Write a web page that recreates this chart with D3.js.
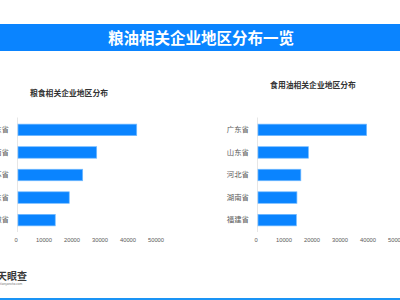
<!DOCTYPE html>
<html lang="zh">
<head>
    <meta charset="UTF-8">
    <title>粮油相关企业地区分布一览</title>
    <style>
        body {
            margin: 0;
            background: #fff;
            font-family: "Noto Sans CJK SC", "Liberation Sans", sans-serif;
        }
        svg { display: block; }
    </style>
</head>
<body>
<script src="https://d3js.org/d3.v7.min.js"></script>
<script>
    // Data
    const grainProvinces = ["山东省", "河南省", "江苏省", "广东省", "安徽省"];
    const grainCounts = [42400, 28100, 23100, 18300, 13300];
    const oilProvinces = ["广东省", "山东省", "河北省", "湖南省", "福建省"];
    const oilCounts = [38800, 18000, 15300, 13900, 13700];
    const xTicks = [0, 10000, 20000, 30000, 40000, 50000];

    const width = 400;
    const height = 300;
    const blue = "#0a84ff";

    const svg = d3.select("body")
        .append("svg")
        .attr("width", width)
        .attr("height", height);

    svg.append("rect").attr("width", width).attr("height", height).attr("fill", "#fff");

    // Header band
    svg.append("rect")
        .attr("x", 0).attr("y", 24)
        .attr("width", width).attr("height", 27)
        .attr("fill", blue);

    svg.append("text")
        .attr("x", 201).attr("y", 43.5)
        .attr("text-anchor", "middle")
        .attr("fill", "#fff")
        .attr("font-size", "15.5px")
        .attr("font-weight", "bold")
        .text("粮油相关企业地区分布一览");

    // Bottom strip
    svg.append("rect")
        .attr("x", 0).attr("y", 298)
        .attr("width", width).attr("height", 2)
        .attr("fill", "#1a94f5");

    // Logo text
    svg.append("text")
        .attr("x", -3).attr("y", 279.5)
        .attr("fill", "#3a3a3a")
        .attr("font-size", "10px")
        .attr("font-weight", "bold")
        .text("天眼查");
    svg.append("text")
        .attr("x", 0).attr("y", 284.5)
        .attr("fill", "#777")
        .attr("font-size", "3px")
        .text("tianyancha.com");

    function drawChart(opts) {
        const x = d3.scaleLinear()
            .domain([0, 50000])
            .range([opts.x0, opts.x0 + 140]);

        const y = d3.scaleBand()
            .domain(opts.categories)
            .range([118.5, 231.5])
            .paddingInner(0.49)
            .paddingOuter(0.25);

        const g = svg.append("g");

        // Title
        g.append("text")
            .attr("x", opts.titleX).attr("y", opts.titleY)
            .attr("text-anchor", "middle")
            .attr("fill", "#333")
            .attr("font-size", "7.8px")
            .attr("font-weight", "bold")
            .text(opts.title);

        // Vertical axis line
        g.append("line")
            .attr("x1", x(0) - 0.5).attr("x2", x(0) - 0.5)
            .attr("y1", 117.5).attr("y2", 232)
            .attr("stroke", "#e6e6e6")
            .attr("stroke-width", 1);

        // Bars
        g.selectAll("rect.bar")
            .data(opts.values)
            .enter()
            .append("rect")
            .attr("class", "bar")
            .attr("x", x(0))
            .attr("y", (d, i) => y(opts.categories[i]))
            .attr("width", d => x(d) - x(0))
            .attr("height", y.bandwidth())
            .attr("fill", blue)
            .attr("stroke", "#74bbff")
            .attr("stroke-width", 0.7);

        // Category labels
        const yAxis = d3.axisLeft(y).tickSize(0).tickPadding(9);
        const ya = g.append("g")
            .attr("transform", "translate(" + x(0) + ",0)")
            .call(yAxis);
        ya.select(".domain").remove();
        ya.selectAll("text")
            .attr("fill", "#595959")
            .attr("font-size", "7.4px")
            .attr("font-family", "'Noto Sans CJK SC', sans-serif");

        // Value axis
        const xAxis = d3.axisBottom(x)
            .tickValues(xTicks)
            .tickFormat(d3.format("d"))
            .tickSize(0)
            .tickPadding(0);
        const xa = g.append("g")
            .attr("transform", "translate(-2.5,238)")
            .call(xAxis);
        xa.select(".domain").remove();
        xa.selectAll("text")
            .attr("fill", "#595959")
            .attr("font-size", "5.8px")
            .attr("font-family", "'Liberation Sans', sans-serif");
    }

    drawChart({
        categories: grainProvinces,
        values: grainCounts,
        x0: 18,
        title: "粮食相关企业地区分布",
        titleX: 69,
        titleY: 96
    });

    drawChart({
        categories: oilProvinces,
        values: oilCounts,
        x0: 258,
        title: "食用油相关企业地区分布",
        titleX: 313,
        titleY: 88
    });
</script>
</body>
</html>
